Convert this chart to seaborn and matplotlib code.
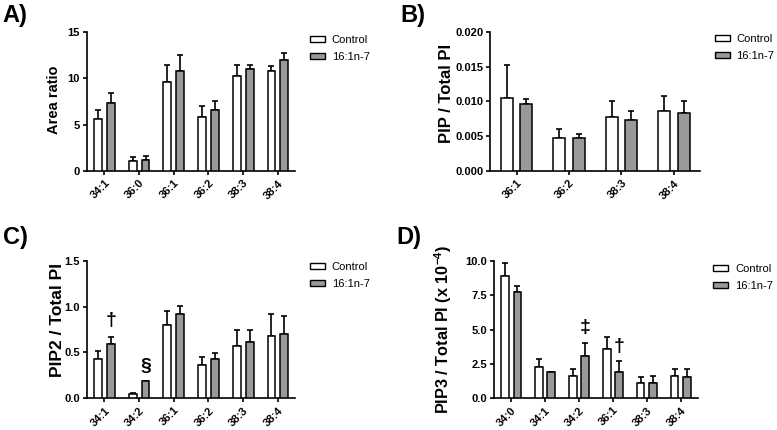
import matplotlib
matplotlib.use("Agg")
import matplotlib.pyplot as plt
import numpy as np
import pandas as pd
import seaborn as sns
from matplotlib.patches import Patch
from matplotlib.ticker import FormatStrFormatter

groups = ["Control", "16:1n-7"]

# A) Area ratio
a_species = ["34:1", "36:0", "36:1", "36:2", "38:3", "38:4"]
a_ctrl = [5.6, 1.1, 9.6, 5.8, 10.2, 10.8]
a_ctrl_sd = [1.0, 0.4, 1.8, 1.25, 1.2, 0.55]
a_treat = [7.35, 1.25, 10.8, 6.55, 11.05, 12.0]
a_treat_sd = [1.05, 0.35, 1.7, 1.0, 0.4, 0.75]

# B) PIP / Total PI
b_species = ["36:1", "36:2", "38:3", "38:4"]
b_ctrl = [0.0105, 0.0048, 0.0078, 0.0087]
b_ctrl_sd = [0.0047, 0.0013, 0.0022, 0.0021]
b_treat = [0.0096, 0.0048, 0.0074, 0.0083]
b_treat_sd = [0.0007, 0.0005, 0.0012, 0.0018]

# C) PIP2 / Total PI
c_species = ["34:1", "34:2", "36:1", "36:2", "38:3", "38:4"]
c_ctrl = [0.425, 0.045, 0.795, 0.36, 0.575, 0.683]
c_ctrl_sd = [0.09, 0.017, 0.16, 0.087, 0.167, 0.236]
c_treat = [0.592, 0.193, 0.919, 0.432, 0.614, 0.697]
c_treat_sd = [0.076, 0.0, 0.09, 0.065, 0.134, 0.2]

# D) PIP3 / Total PI (x 10^-4)
d_species = ["34:0", "34:1", "34:2", "36:1", "38:3", "38:4"]
d_ctrl = [8.91, 2.25, 1.6, 3.56, 1.09, 1.6]
d_ctrl_sd = [0.94, 0.58, 0.55, 0.87, 0.44, 0.55]
d_treat = [7.75, 1.91, 3.1, 1.91, 1.11, 1.53]
d_treat_sd = [0.46, 0.0, 0.9, 0.78, 0.49, 0.6]

# significance marks above the 16:1n-7 bars: (species, symbol, y)
c_marks = [("34:1", "\u2020", 0.85), ("34:2", "\u00a7", 0.345)]
d_marks = [("34:2", "\u2021", 5.16), ("36:1", "\u2020", 3.75)]

sns.set_style("ticks")
plt.rcParams["font.family"] = ["Liberation Sans", "DejaVu Sans"]
plt.rcParams["mathtext.fontset"] = "custom"
plt.rcParams["mathtext.rm"] = "Liberation Sans:bold"
plt.rcParams["mathtext.bf"] = "Liberation Sans:bold"
plt.rcParams["mathtext.default"] = "bf"
for key in ["text.color", "axes.labelcolor", "xtick.color", "ytick.color"]:
    plt.rcParams[key] = "black"

palette = {"Control": "white", "16:1n-7": "#999999"}

fig = plt.figure(figsize=(7.77, 4.30), dpi=100)


def panel(rect, species, ctrl, ctrl_sd, treat, treat_sd, ylabel, ylabel_size, ylabel_xy,
          ylim, yticks, fmt, letter, letter_xy, legend_xy, marks=()):
    ax = fig.add_axes(rect)
    df = pd.DataFrame({
        "species": species * 2,
        "group": [groups[0]] * len(species) + [groups[1]] * len(species),
        "value": list(ctrl) + list(treat),
        "sd": list(ctrl_sd) + list(treat_sd),
    })
    sns.barplot(data=df, x="species", y="value", hue="group", order=species,
                hue_order=groups, palette=palette, edgecolor="black", linewidth=1.1,
                width=0.74, gap=0.38, errorbar=None, legend=False, ax=ax, zorder=3)
    centers = {}
    for cont, g in zip(ax.containers, groups):
        sub = df[df.group == g]
        xs = [p.get_x() + p.get_width() / 2 for p in cont.patches]
        ys = sub["value"].to_numpy()
        sds = sub["sd"].to_numpy()
        ax.errorbar(xs, ys, yerr=[np.zeros_like(sds), sds], fmt="none", ecolor="black",
                    elinewidth=1.2, capsize=2.5, capthick=1.2, zorder=2)
        centers[g] = dict(zip(species, xs))
    for sp, sym, y in marks:
        ax.text(centers[groups[1]][sp], y, sym, ha="center", va="center",
                fontsize=14, fontweight="bold")
    ax.set_xlim(-0.5, len(species) - 0.5)
    ax.set_ylim(*ylim)
    ax.set_yticks(yticks)
    ax.yaxis.set_major_formatter(FormatStrFormatter(fmt))
    ax.set_xlabel("")
    ax.set_ylabel(ylabel, fontsize=ylabel_size, fontweight="bold")
    ax.yaxis.set_label_coords(*ylabel_xy)
    sns.despine(ax=ax)
    for s in ["left", "bottom"]:
        ax.spines[s].set_linewidth(1.2)
        ax.spines[s].set_color("black")
    ax.tick_params(axis="both", width=1.2, length=3, color="black", pad=2)
    ax.tick_params(axis="y", labelsize=8)
    ax.tick_params(axis="x", labelsize=8)
    for lab in ax.get_yticklabels():
        lab.set_fontweight("bold")
    for lab in ax.get_xticklabels():
        lab.set_fontweight("bold")
        lab.set_rotation(45)
        lab.set_ha("right")
        lab.set_rotation_mode("anchor")
    handles = [Patch(facecolor=palette[g], edgecolor="black", linewidth=1) for g in groups]
    fig.legend(handles, groups, loc="upper left", bbox_to_anchor=legend_xy,
               frameon=False, fontsize=8, borderpad=0, borderaxespad=0,
               handlelength=1.35, handleheight=0.45, handletextpad=0.6, labelspacing=0.65)
    fig.text(*letter_xy, letter, fontsize=17, fontweight="bold", ha="left", va="center")
    return ax


panel([0.112, 0.602, 0.268, 0.324], a_species, a_ctrl, a_ctrl_sd, a_treat, a_treat_sd,
      "Area ratio", 10.5, (-0.123, 0.51), (0, 15), [0, 5, 10, 15], "%d",
      "A)", (0.003, 0.963), (0.399, 0.919))
panel([0.631, 0.602, 0.270, 0.324], b_species, b_ctrl, b_ctrl_sd, b_treat, b_treat_sd,
      "PIP / Total PI", 12, (-0.174, 0.56), (0, 0.02), [0, 0.005, 0.01, 0.015, 0.02],
      "%.3f", "B)", (0.515, 0.963), (0.920, 0.921))
panel([0.112, 0.074, 0.268, 0.319], c_species, c_ctrl, c_ctrl_sd, c_treat, c_treat_sd,
      "PIP2 / Total PI", 12.5, (-0.106, 0.57), (0, 1.5), [0, 0.5, 1.0, 1.5], "%.1f",
      "C)", (0.004, 0.447), (0.399, 0.391), marks=c_marks)
panel([0.636, 0.074, 0.262, 0.319], d_species, d_ctrl, d_ctrl_sd, d_treat, d_treat_sd,
      r"PIP3 / Total PI (x 10$^{-4}$)", 11.7, (-0.196, 0.50), (0, 10),
      [0, 2.5, 5, 7.5, 10], "%.1f", "D)", (0.510, 0.447), (0.918, 0.386), marks=d_marks)

fig.savefig("out.png", dpi=100)
